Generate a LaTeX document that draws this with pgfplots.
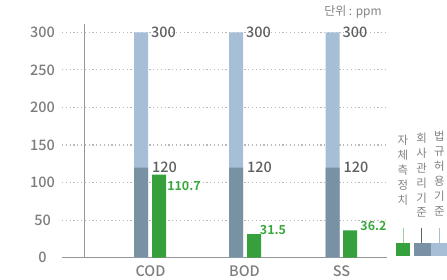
\documentclass[border=0pt]{standalone}
\usepackage{pgfplots}
\pgfplotsset{compat=1.18}
\usepackage{fontspec}
\setmainfont{Noto Sans CJK KR Medium}[BoldFont={Noto Sans CJK KR Bold}]
\newfontfamily\kr{Noto Sans CJK KR}
\definecolor{lblue}{RGB}{166,191,215}
\definecolor{dblue}{RGB}{121,146,163}
\definecolor{gbar}{RGB}{54,160,60}
\definecolor{glab}{RGB}{58,168,62}
\definecolor{tickgray}{RGB}{125,125,125}
\definecolor{labgray}{RGB}{95,95,95}
\definecolor{gridc}{RGB}{185,185,185}
\definecolor{axisc}{RGB}{150,150,150}
\definecolor{legtext}{RGB}{130,130,130}
\begin{document}
\begin{tikzpicture}
\begin{axis}[
  at={(0,0)}, anchor=south west,
  width=447bp, height=280bp, scale only axis,
  xmin=0, xmax=447, ymin=-29.7, ymax=343.0,
  clip=false,
  axis line style={draw=none}, tick style={draw=none},
  /pgf/number format/assume math mode=true,
  ytick={0,50,100,150,200,250,300},
  yticklabel style={anchor=center, xshift=42.5bp, font=\fontsize{14.5}{16}\selectfont, text=tickgray},
  xtick={150.5,244.5,341.5}, xticklabels={COD,BOD,SS},
  xticklabel style={anchor=center, yshift=8.5bp, font=\fontsize{14.5}{16}\selectfont, text=tickgray},
]
% grid
\pgfplotsinvokeforeach{50,100,150,200,250,300}{
  \draw[gridc, line width=1.1bp, dash pattern=on 1.2bp off 2.6bp] (axis cs:62,#1) -- (axis cs:388,#1);
}
\draw[axisc, line width=1.3bp] (axis cs:62,0) -- (axis cs:387,0);
\draw[axisc, line width=1.3bp] (axis cs:84.3,0) -- (axis cs:84.3,310.7);

% legal limit (light) and company limit (dark)
\addplot[ybar, bar width=14, bar shift=0pt, fill=lblue, draw=none] coordinates {(141,300) (236,300) (332.5,300)};
\addplot[ybar, bar width=14, bar shift=0pt, fill=dblue, draw=none] coordinates {(141,120) (236,120) (332.5,120)};
% measured
\addplot[ybar, bar width=14, bar shift=0pt, fill=gbar, draw=none] coordinates {(159,110.7) (254,31.5) (350,36.2)};

% value labels
\pgfplotsinvokeforeach{148,243,339.5}{
  \node[anchor=west, inner sep=0pt, text=labgray, font=\fontsize{14.5}{16}\selectfont] at (axis cs:#1+3,300) {300};
  \node[anchor=west, inner sep=0pt, text=labgray, font=\fontsize{14.5}{16}\selectfont] at (axis cs:#1+4,120) {120};
}
\node[text=glab, font=\bfseries\fontsize{12.5}{14}\selectfont, inner sep=0pt] at (axis cs:184,95.4) {110.7};
\node[text=glab, font=\bfseries\fontsize{12.5}{14}\selectfont, inner sep=0pt] at (axis cs:273,37.5) {31.5};
\node[text=glab, font=\bfseries\fontsize{12.5}{14}\selectfont, inner sep=0pt] at (axis cs:373.5,42.2) {36.2};

% unit
\node[text=legtext, font=\kr\fontsize{12}{14}\selectfont, inner sep=0pt] at (axis cs:353,327.7) {단위 : ppm};

% legend
\node[align=center, text=legtext, font=\kr\fontsize{11.5}{15}\selectfont, inner sep=0pt] at (axis cs:403,116.7) {자\\체\\측\\정\\치};
\node[align=center, text=legtext, font=\kr\fontsize{11.5}{15}\selectfont, inner sep=0pt] at (axis cs:421.7,109.8) {회\\사\\관\\리\\기\\준};
\node[align=center, text=legtext, font=\kr\fontsize{11.5}{15}\selectfont, inner sep=0pt] at (axis cs:439.3,112) {법\\규\\허\\용\\기\\준};
\draw[gbar!50, line width=0.8bp] (axis cs:403,39.5) -- (axis cs:403,20.2);
\draw[dblue!70!black, line width=0.8bp] (axis cs:421.7,39.5) -- (axis cs:421.7,20.2);
\draw[lblue, line width=0.8bp] (axis cs:439.3,39.5) -- (axis cs:439.3,20.2);
\fill[gbar] (axis cs:396,2.3) rectangle (axis cs:410,20.2);
\fill[dblue] (axis cs:414,2.3) rectangle (axis cs:430.7,20.2);
\fill[lblue] (axis cs:430.7,2.3) rectangle (axis cs:447,20.2);
\end{axis}
\pgfresetboundingbox
\useasboundingbox (0,0) rectangle (447bp,280bp);
\end{tikzpicture}
\end{document}
